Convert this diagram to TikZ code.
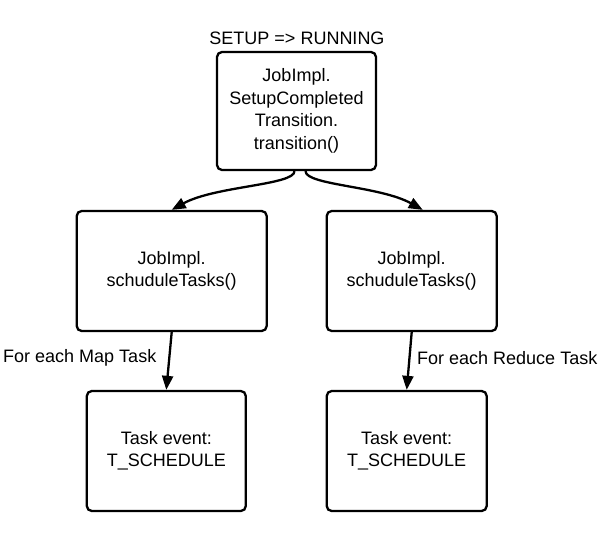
\documentclass[tikz,border=0pt]{standalone}
\usepackage{fontspec}
\setmainfont{Liberation Sans}
\usetikzlibrary{arrows.meta}
\begin{document}
\begin{tikzpicture}[x=1pt,y=-1pt,
  box/.style={draw,line width=2.3pt,rounded corners=5pt,align=center,inner sep=0pt,
    font=\fontsize{18}{22.5}\selectfont},
  lbl/.style={inner sep=0pt,font=\fontsize{18}{22.5}\selectfont},
  arr/.style={line width=2.3pt,-{Triangle[length=14pt,width=11pt]}}]
\useasboundingbox (0,0) rectangle (609,559);
\node[box,minimum width=159pt,minimum height=118pt] (top) at (296.5,111)
  {JobImpl.\\SetupCompleted\\Transition.\\transition()};
\node[box,minimum width=190pt,minimum height=120pt] (ml) at (171.7,271)
  {JobImpl.\\schuduleTasks()};
\node[box,minimum width=170pt,minimum height=120pt] (mr) at (411.7,271)
  {JobImpl.\\schuduleTasks()};
\node[box,minimum width=159pt,minimum height=120pt] (bl) at (166.3,451)
  {Task event:\\T\_SCHEDULE};
\node[box,minimum width=160pt,minimum height=120pt] (br) at (406.7,451)
  {Task event:\\T\_SCHEDULE};
\node[lbl] (t) at (297,38) {SETUP => RUNNING};
\node[lbl,anchor=west] (lm) at (3,358) {For each Map Task};
\node[lbl,anchor=west] (lr) at (417,358) {For each Reduce Task};
\coordinate (s1) at ([xshift=-2pt]top.south);
\coordinate (s2) at ([xshift=9pt]top.south);
\coordinate (e2) at ([xshift=11pt]mr.north);
\draw[arr] (s1) .. controls ([yshift=-14pt]s1) and (215,186) .. (ml.north);
\draw[arr] (s2) .. controls ([yshift=-14pt]s2) and (380,186) .. (e2);
\draw[arr] (ml.south) -- (bl.north);
\draw[arr] (mr.south) -- (br.north);
\end{tikzpicture}
\end{document}
